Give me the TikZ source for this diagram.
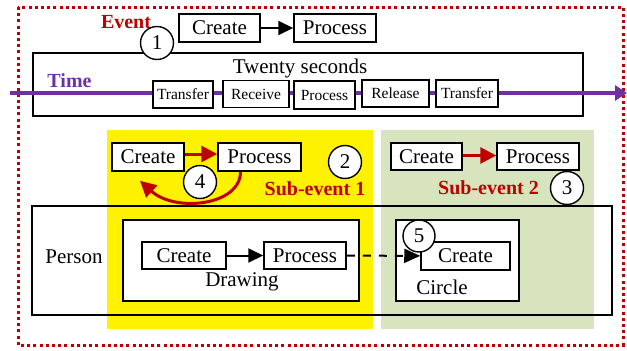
\documentclass[tikz,border=0pt]{standalone}
\usepackage{fontspec}
\setmainfont{Liberation Serif}
\usetikzlibrary{arrows.meta,calc}
\definecolor{evred}{HTML}{C00000}
\definecolor{timepurple}{HTML}{7030A0}
\definecolor{subgreen}{HTML}{D7E4BD}

\begin{document}
\begin{tikzpicture}[x=1pt, y=-1pt,
        font=\fontsize{21}{24}\selectfont,
        box/.style={draw, line width=1.5pt, fill=white, inner sep=0pt, minimum height=28pt},
        tbox/.style={draw, line width=1.3pt, fill=white, inner sep=0pt, minimum height=27pt, font=\fontsize{15.5}{17}\selectfont},
        frame/.style={draw, line width=1.4pt, inner sep=0pt},
        num/.style={draw, circle, line width=1.4pt, fill=white, inner sep=0pt, minimum size=33pt},
        tag/.style={font=\fontsize{20}{22}\selectfont\bfseries, text=evred},
        tip/.style={-{Triangle[length=15pt,width=14pt]}},
        redtip/.style={-{Triangle[length=16pt,width=16pt]}}]
        \useasboundingbox (0,0) rectangle (627,351);

        \fill[yellow] (107,130) rectangle (373,329);
        \fill[subgreen] (381,130) rectangle (594,329);
        \draw[evred, line width=3pt, dash pattern=on 3pt off 3.2pt] (18,7) rectangle (623,345);

        % event
        \node[tag] (event) at (126,22) {Event};
        \node[box, minimum width=81pt] (create0) at (219.5,28) {Create};
        \node[box, minimum width=82pt] (proc0) at (335,28) {Process};
        \draw[tip, line width=2pt] (create0) -- (proc0);

        % time
        \node[frame, minimum width=550pt, minimum height=63pt] (period) at (308,84.5) {};
        \node (twenty) at (300,68) {Twenty seconds};
        \node[num] (n1) at (157,43) {1};
        \coordinate (tstart) at (10,93);
        \coordinate (tend) at (627,93);
        \draw[timepurple, line width=4pt, -{Triangle[length=12pt,width=15pt]}] (tstart) -- (tend);
        \node[font=\fontsize{20}{22}\selectfont\bfseries, text=timepurple] (time) at (69.5,81) {Time};
        \node[tbox, minimum width=60pt] (transfer1) at (183,94.5) {Transfer};
        \node[tbox, minimum width=66pt] (receive) at (256,94) {Receive};
        \node[tbox, minimum width=61pt, minimum height=28pt] (proct) at (324.5,95) {Process};
        \node[tbox, minimum width=67pt] (release) at (395.5,93.5) {Release};
        \node[tbox, minimum width=62pt] (transfer2) at (467,93.5) {Transfer};

        % sub-event 1
        \node[box, minimum width=72pt] (create1) at (148,157) {Create};
        \node[box, minimum width=83pt] (proc1) at (259.5,157) {Process};
        \draw[redtip, evred, line width=3pt] ([yshift=3pt]create1.east) -- ([yshift=3pt]proc1.west);
        \draw[evred, line width=3pt, redtip] ($(proc1.south)+(-19,0)$)
            .. controls ($(proc1.south)+(-19,34)$) and ($(create1.south)+(27,41)$) .. ($(create1.south)+(-8,9)$);
        \node[num] (n4) at (200,182) {4};
        \node[num] (n2) at (345,162) {2};
        \node[tag] (sub1) at (315,189) {Sub-event 1};

        % sub-event 2
        \node[box, minimum width=71pt, minimum height=27pt] (create2) at (426.5,156.5) {Create};
        \node[box, minimum width=82pt, minimum height=27pt] (proc2) at (538,156.5) {Process};
        \draw[redtip, evred, line width=3pt] ([yshift=1pt]create2.east) -- ([yshift=1pt]proc2.west);
        \node[tag] (sub2) at (488.5,188) {Sub-event 2};
        \node[num] (n3) at (567,188) {3};

        % person
        \node[frame, minimum width=580pt, minimum height=109pt] (person) at (322,260.5) {};
        \node (personlbl) at (74,257) {Person};
        \node[frame, line width=2pt, fill=white, minimum width=236pt, minimum height=81pt] (drawing) at (241,260.5) {};
        \node[box, minimum width=84pt, minimum height=27pt] (create3) at (184,255.5) {Create};
        \node[box, minimum width=82pt, minimum height=27pt] (proc3) at (305,255.5) {Process};
        \draw[tip, line width=2pt] (create3) -- (proc3);
        \node (drawinglbl) at (242,282) {Drawing};
        \node[frame, line width=2pt, fill=white, minimum width=123pt, minimum height=81pt] (circ) at (457.5,260.5) {};
        \node[box, minimum width=89pt] (create4) at (465.5,256) {Create};
        \node (circlelbl) at (442,287) {Circle};
        \draw[-{Triangle[length=16pt,width=14pt]}, line width=2pt, dash pattern=on 8pt off 8pt] (proc3) -- (create4);
        \node[num, minimum size=32pt] (n5) at (419,236) {5};
    \end{tikzpicture}
\end{document}
